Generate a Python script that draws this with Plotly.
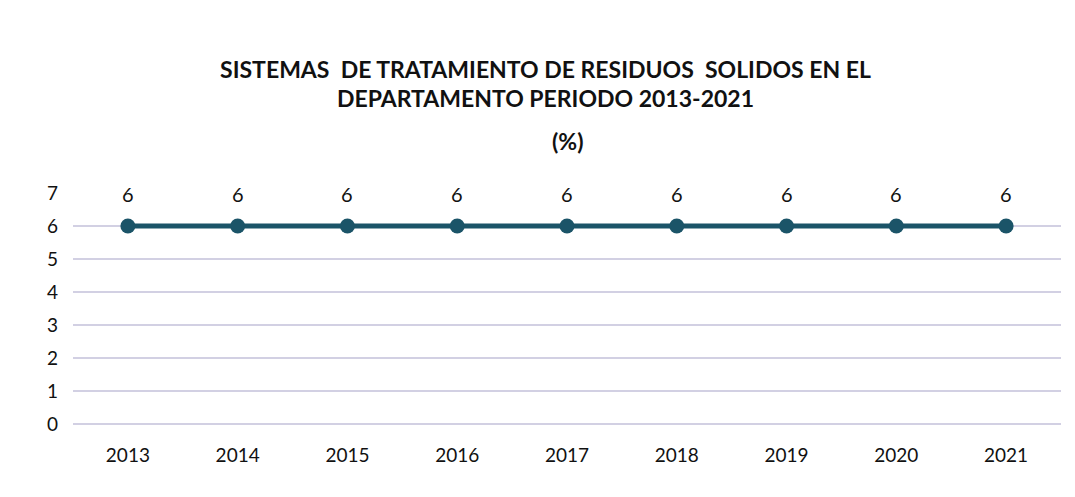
import plotly.graph_objects as go

years = ["2013", "2014", "2015", "2016", "2017", "2018", "2019", "2020", "2021"]
values = [6, 6, 6, 6, 6, 6, 6, 6, 6]
y_ticks = [0, 1, 2, 3, 4, 5, 6, 7]

line_color = "#1b5468"
font_family = "Lato, Open Sans, sans-serif"

fig = go.Figure()
fig.add_trace(go.Scatter(
    x=years, y=values,
    mode="lines+markers",
    line=dict(color=line_color, width=5),
    marker=dict(color=line_color, size=15),
    cliponaxis=False,
    showlegend=False,
))

for i, v in enumerate(values):
    fig.add_annotation(
        x=i, y=v, xref="x", yref="y", text=str(v), showarrow=False,
        yshift=32, font=dict(family=font_family, size=20, color="#111111"),
    )

fig.add_annotation(
    text="<b>(%)</b>", xref="paper", yref="paper", x=0.5, y=1.0,
    xanchor="center", yanchor="middle", yshift=52, showarrow=False,
    font=dict(family=font_family, size=23, color="#111111"),
)

fig.update_layout(
    width=1075, height=497,
    paper_bgcolor="white", plot_bgcolor="white",
    margin=dict(l=65, r=22, t=185, b=81),
    title=dict(
        text="<b>SISTEMAS  DE TRATAMIENTO DE RESIDUOS  SOLIDOS EN EL<br>DEPARTAMENTO PERIODO 2013-2021</b>",
        x=0.5, xanchor="center", y=0.86, yanchor="top",
        font=dict(family=font_family, size=23, color="#111111"),
    ),
    xaxis=dict(
        type="category", categoryorder="array", categoryarray=years,
        range=[-0.5, len(years) - 0.5], autorange=False,
        showgrid=False, showline=False, zeroline=False,
        tickfont=dict(family=font_family, size=19, color="#111111"),
        ticks="", ticklabelstandoff=18,
    ),
    yaxis=dict(
        range=[0, 7], tickvals=y_ticks,
        showgrid=True, gridcolor="#d2d0e3", gridwidth=1.5,
        zeroline=True, zerolinecolor="#d2d0e3", zerolinewidth=1.5,
        showline=False,
        tickfont=dict(family=font_family, size=19, color="#111111"),
        ticks="", ticklabelstandoff=14,
    ),
    font=dict(family=font_family),
)

fig.write_html("out.html")
